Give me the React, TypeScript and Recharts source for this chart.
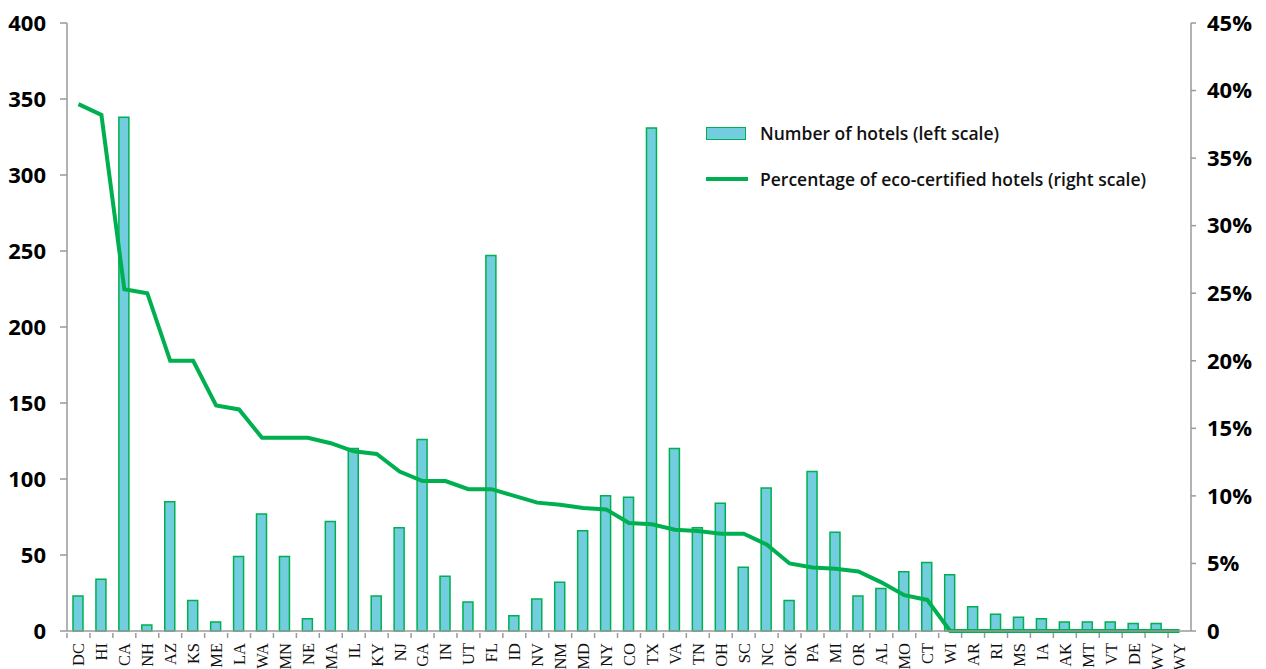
import { Bar, ComposedChart, Legend, Line, XAxis, YAxis } from 'recharts'

const states = [
  'DC', 'HI', 'CA', 'NH', 'AZ', 'KS', 'ME', 'LA', 'WA', 'MN', 'NE', 'MA', 'IL',
  'KY', 'NJ', 'GA', 'IN', 'UT', 'FL', 'ID', 'NV', 'NM', 'MD', 'NY', 'CO', 'TX',
  'VA', 'TN', 'OH', 'SC', 'NC', 'OK', 'PA', 'MI', 'OR', 'AL', 'MO', 'CT', 'WI',
  'AR', 'RI', 'MS', 'IA', 'AK', 'MT', 'VT', 'DE', 'WV', 'WY',
]

// number of hotels (left scale)
const hotelCounts = [
  23, 34, 338, 4, 85, 20, 6, 49, 77, 49, 8, 72, 120,
  23, 68, 126, 36, 19, 247, 10, 21, 32, 66, 89, 88, 331,
  120, 68, 84, 42, 94, 20, 105, 65, 23, 28, 39, 45, 37,
  16, 11, 9, 8, 6, 6, 6, 5, 5, 0,
]

// share of eco-certified hotels, % (right scale)
const ecoShare = [
  39.0, 38.2, 25.3, 25.0, 20.0, 20.0, 16.7, 16.4, 14.3, 14.3, 14.3, 13.9, 13.3,
  13.1, 11.8, 11.1, 11.1, 10.5, 10.5, 10.0, 9.5, 9.35, 9.1, 9.0, 8.0, 7.9,
  7.5, 7.4, 7.2, 7.2, 6.4, 5.0, 4.7, 4.6, 4.4, 3.6, 2.65, 2.3, 0,
  0, 0, 0, 0, 0, 0, 0, 0, 0, 0,
]

const leftTicks = [0, 50, 100, 150, 200, 250, 300, 350, 400]
const rightTicks = [0, 5, 10, 15, 20, 25, 30, 35, 40, 45]

const BAR_FILL = '#72cddf'
const GREEN = '#00b050'
const AXIS = '#9a9a9a'

const data = states.map((state, i) => ({
  state,
  hotels: hotelCounts[i],
  eco: ecoShare[i],
}))

const StateTick = (props: any) => {
  const { x, y, payload } = props
  const half = payload?.offset ?? 11.5
  return (
    <g>
      <line x1={x - half} x2={x - half} y1={y} y2={y + 5} stroke={AXIS} strokeWidth={1.5} />
      <text
        x={x}
        y={y + 10}
        transform={`rotate(-90, ${x}, ${y + 10})`}
        textAnchor='end'
        dy='0.36em'
        fontFamily='"Liberation Serif", "Times New Roman", serif'
        fontSize={16.5}
        fill='#111'
      >
        {payload.value}
      </text>
    </g>
  )
}

const LegendBox = () => (
  <div style={{ fontFamily: '"Open Sans", sans-serif', fontSize: 17.5, fontWeight: 600, color: '#111' }}>
    <div style={{ display: 'flex', alignItems: 'center', height: 26 }}>
      <span
        style={{
          display: 'inline-block',
          width: 38,
          height: 11,
          background: BAR_FILL,
          border: `1.5px solid ${GREEN}`,
          marginRight: 14,
        }}
      />
      Number of hotels (left scale)
    </div>
    <div style={{ display: 'flex', alignItems: 'center', height: 26, marginTop: 20 }}>
      <span
        style={{
          display: 'inline-block',
          width: 42,
          height: 4,
          background: GREEN,
          marginRight: 12,
        }}
      />
      Percentage of eco-certified hotels (right scale)
    </div>
  </div>
)

const tickStyle = {
  fontFamily: '"Open Sans", sans-serif',
  fontSize: 22,
  fontWeight: 700,
  fill: '#000',
}

export default function App() {
  return (
    <div style={{ position: 'absolute', left: 0, top: 0, width: 1266, height: 669, background: '#fff' }}>
      <ComposedChart
        width={1266}
        height={669}
        data={data}
        margin={{ top: 23, right: 0, bottom: 0, left: 0 }}
        barCategoryGap={0}
      >
        <XAxis
          dataKey='state'
          interval={0}
          height={38}
          tickSize={0}
          tickLine={false}
          tick={<StateTick />}
          axisLine={{ stroke: AXIS, strokeWidth: 1.5 }}
        />
        <YAxis
          yAxisId='left'
          width={67}
          domain={[0, 400]}
          ticks={leftTicks}
          tickSize={7}
          tickMargin={14}
          tick={tickStyle}
          tickLine={{ stroke: AXIS, strokeWidth: 1.5 }}
          axisLine={{ stroke: AXIS, strokeWidth: 1.5 }}
        />
        <YAxis
          yAxisId='right'
          orientation='right'
          width={75}
          domain={[0, 45]}
          ticks={rightTicks}
          tickSize={5}
          tickMargin={11}
          tickFormatter={(v: number) => (v === 0 ? '0' : `${v}%`)}
          tick={tickStyle}
          tickLine={{ stroke: AXIS, strokeWidth: 1.5 }}
          axisLine={{ stroke: AXIS, strokeWidth: 1.5 }}
        />
        <Legend
          layout='vertical'
          align='center'
          verticalAlign='middle'
          content={<LegendBox />}
          wrapperStyle={{ top: 120, left: 706, width: 500 }}
        />
        <Bar
          yAxisId='left'
          dataKey='hotels'
          barSize={10}
          fill={BAR_FILL}
          stroke={GREEN}
          strokeWidth={1.5}
          isAnimationActive={false}
        />
        <Line
          yAxisId='right'
          dataKey='eco'
          type='linear'
          stroke={GREEN}
          strokeWidth={4}
          dot={false}
          activeDot={false}
          isAnimationActive={false}
        />
      </ComposedChart>
    </div>
  )
}
